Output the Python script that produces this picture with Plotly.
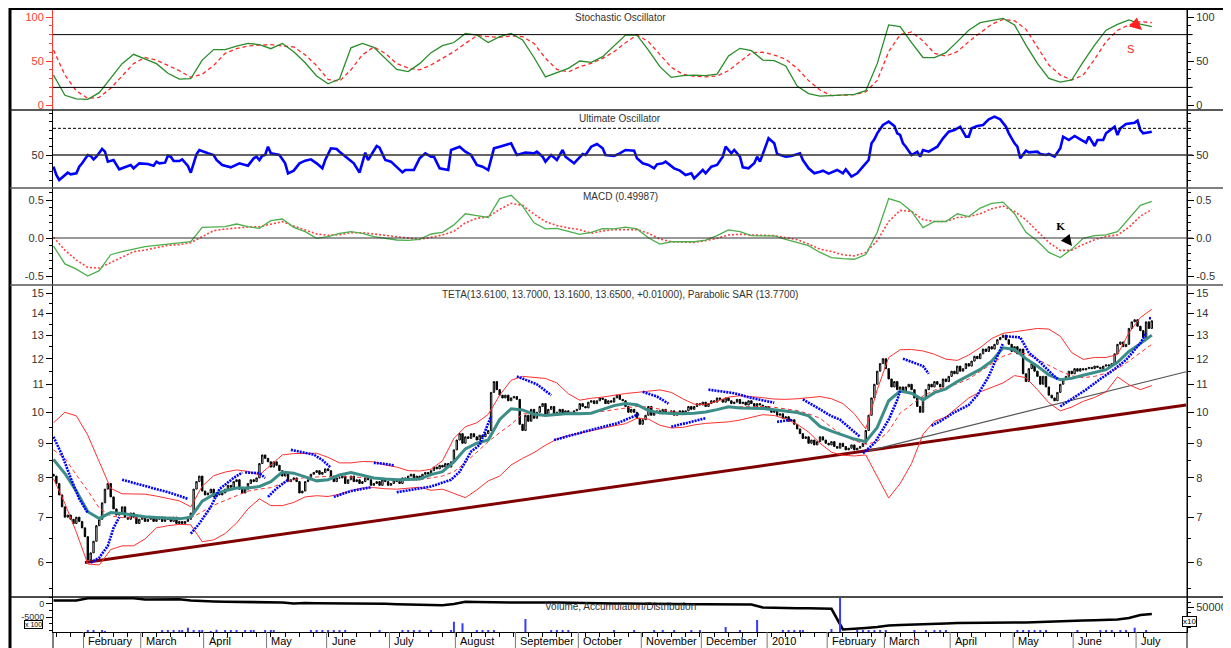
import numpy as np
import pandas as pd
import plotly.graph_objects as go

# ---------------- DATA ----------------
first_date = "2009-01-16"
first_open = 8.10
close = [
 8.05, 7.85, 7.55, 7.25, 7.0, 7.05, 6.95, 6.85, 7.0, 6.9,
 6.75, 6.55, 6.05, 6.2, 6.45, 6.8, 6.95, 7.35, 7.7, 7.85,
 7.5, 7.2, 7.05, 7.1, 7.25, 7.0, 6.95, 7.1, 7.0, 6.85,
 6.95, 7.0, 6.9, 6.95, 7.0, 6.9, 6.95, 7.0, 6.9, 6.95,
 6.95, 6.9, 7.0, 6.85, 6.9, 6.85, 6.9, 6.95, 7.1, 7.7,
 7.9, 8.05, 7.65, 7.55, 7.6, 7.7, 7.5, 7.6, 7.55, 7.6,
 7.7, 7.8, 7.75, 7.9, 7.95, 7.7, 7.6, 7.7, 7.85, 7.95,
 7.9, 8.0, 8.4, 8.65, 8.55, 8.45, 8.3, 8.45, 8.35, 8.2,
 8.05, 8.15, 7.9, 7.95, 8.0, 7.9, 7.6, 7.65, 7.9, 7.95,
 8.1, 8.15, 8.2, 8.1, 8.15, 8.25, 8.2, 8.05, 7.9, 8.0,
 8.0, 8.05, 7.85, 7.95, 8.05, 7.9, 7.95, 7.85, 7.9, 8.0,
 7.95, 7.8, 7.85, 7.9, 7.8, 7.95, 7.9, 7.8, 7.85, 7.95,
 7.9, 7.85, 8.0, 7.95, 8.05, 8.1, 7.95, 8.05, 8.0, 8.1,
 8.15, 8.1, 8.2, 8.3, 8.25, 8.35, 8.3, 8.4, 8.3, 8.45,
 8.8, 9.1, 9.3, 9.0, 9.2, 9.15, 9.3, 9.2, 9.1, 9.25,
 9.2, 9.3, 9.4, 10.7, 11.1, 10.8, 10.6, 10.5, 10.6, 10.4,
 10.5, 10.55, 10.45, 9.6, 9.4, 9.9, 9.7, 10.1, 9.8, 10.0,
 10.2, 10.3, 9.9, 10.1, 10.2, 9.9, 10.0, 10.1, 9.95, 10.05,
 10.0, 9.95, 10.05, 10.1, 10.3, 10.2, 10.15, 10.35, 10.4, 10.3,
 10.4, 10.5, 10.45, 10.3, 10.4, 10.35, 10.5, 10.6, 10.45, 10.4,
 10.2, 10.0, 10.1, 10.0, 9.8, 9.6, 9.75, 9.9, 10.2, 9.9,
 10.0, 10.05, 9.95, 10.1, 10.0, 9.95, 10.05, 9.9, 10.0, 10.05,
 9.95, 10.05, 10.2, 10.1, 10.2, 10.3, 10.25, 10.35, 10.2, 10.3,
 10.4, 10.35, 10.5, 10.45, 10.35, 10.5, 10.4, 10.3, 10.35, 10.45,
 10.3, 10.35, 10.25, 10.4, 10.3, 10.2, 10.3, 10.25, 10.15, 10.2,
 10.1, 10.0, 10.05, 9.9, 9.95, 9.8, 9.85, 9.7, 9.75, 9.6,
 9.45, 9.3, 9.15, 9.2, 9.0, 9.1, 8.95, 9.05, 9.2, 9.1,
 9.0, 8.95, 9.05, 8.9, 8.85, 9.0, 8.9, 8.8, 8.85, 8.95,
 8.8, 8.85, 8.9, 9.0, 9.4, 9.9, 10.5, 11.0, 11.5, 11.8,
 12.0, 11.6, 11.2, 10.9, 11.1, 10.8, 10.9, 10.7, 10.9, 11.0,
 10.8, 10.5, 10.2, 10.0, 10.5, 10.8, 11.0, 10.9, 11.1, 11.0,
 10.9, 11.2, 11.1, 11.3, 11.5, 11.4, 11.7, 11.5, 11.6, 11.8,
 11.7, 11.9, 12.1, 12.0, 12.2, 12.4, 12.3, 12.5, 12.4, 12.6,
 12.8, 12.9, 13.0, 12.8, 12.6, 12.3, 12.5, 12.2, 12.4, 11.4,
 11.1, 11.6, 11.8, 11.5, 11.3, 11.0, 11.3, 10.9, 10.6, 10.5,
 10.4, 10.7, 11.0, 11.2, 11.3, 11.5, 11.4, 11.6, 11.5, 11.6,
 11.55, 11.6, 11.65, 11.6, 11.7, 11.65, 11.6, 11.7, 11.75, 11.7,
 11.8, 12.2, 12.6, 12.7, 12.5, 12.6, 13.3, 13.6, 13.7, 13.4,
 13.2, 12.9, 13.6, 13.3, 13.65,
]

# indicator values read every 4th session
sample_step = 4
stoch_k = [34, 11, 7, 6.4, 14, 31, 47, 57.6, 52, 47,
           36, 29.5, 30, 51, 63, 63, 67, 70, 68.6, 64,
           70, 60.6, 48, 33, 24, 29.5, 65, 70, 65.5, 53,
           40.5, 38, 47, 59.5, 67.4, 71, 81.4, 79.5, 71, 77.7,
           81.4, 73.9, 54, 32, 36.7, 41.7, 50, 48.5, 55, 67,
           79.5, 79.5, 62.5, 43.6, 31.4, 33.3, 34, 33.3, 35, 55.7,
           64.4, 61.7, 51, 50.4, 44.3, 21.6, 12.9, 10.2, 10.6, 11.4,
           12, 16.3, 47, 91, 89, 70.8, 54, 53.8, 59.5, 72,
           85, 93.5, 96, 98.5, 91, 68, 47.3, 30.3, 26, 28.4,
           49, 68, 85, 91.7, 96.6, 92, 89]
stoch_d = [62.5, 34, 16, 7.6, 8.7, 19, 33, 47, 54, 51,
           45, 39, 31.4, 35, 45, 58.7, 64, 67, 68, 68.6,
           67, 66, 57, 44.7, 29, 27, 40, 57, 66, 58.7,
           47, 42, 40, 45.5, 53, 60.6, 70, 78.8, 77.7, 77,
           78.4, 77.7, 70, 53, 40.5, 37.5, 43.6, 47.3, 53, 60.6,
           70.8, 79.5, 72, 56.8, 42.8, 35, 32.6, 32, 33, 39,
           49, 59.5, 60, 56.8, 52, 41.7, 27.7, 17, 10.6, 11.4,
           11.7, 15, 28, 60.6, 80, 83, 73, 58.7, 55.7, 60.6,
           72, 82, 91.7, 97.3, 95.8, 86, 65.5, 45.5, 34, 28.4,
           34, 52, 72, 85, 91, 94.7, 93.6]
macd = [-0.105, -0.34, -0.41, -0.50, -0.43, -0.22, -0.18, -0.145, -0.114, -0.096,
        -0.079, -0.066, -0.048, 0.14, 0.149, 0.149, 0.184, 0.149, 0.127, 0.228,
        0.25, 0.14, 0.083, -0.004, 0.018, 0.061, 0.083, 0.061, 0.018, -0.009,
        -0.026, -0.03, -0.018, 0.053, 0.075, 0.173, 0.319, 0.296, 0.27, 0.518,
        0.562, 0.42, 0.2, 0.12, 0.128, 0.088, 0.049, 0.075, 0.124, 0.12,
        0.142, 0.12, 0.004, -0.08, -0.049, -0.049, -0.049, -0.027, 0.031, 0.106,
        0.084, 0.031, 0.031, 0.027, -0.018, -0.058, -0.10, -0.19, -0.257, -0.27,
        -0.279, -0.217, 0.075, 0.518, 0.473, 0.35, 0.137, 0.217, 0.217, 0.319,
        0.283, 0.394, 0.456, 0.473, 0.319, 0.075, -0.04, -0.19, -0.257, -0.146,
        -0.004, 0.031, 0.04, 0.084, 0.252, 0.429, 0.482]
macd_signal = [0.01, -0.16, -0.29, -0.386, -0.395, -0.32, -0.245, -0.18, -0.158, -0.127,
               -0.096, -0.088, -0.061, 0.018, 0.096, 0.118, 0.136, 0.145, 0.149, 0.18,
               0.215, 0.158, 0.105, 0.053, 0.035, 0.044, 0.07, 0.07, 0.053, 0.035,
               0.009, -0.004, -0.018, 0.009, 0.04, 0.088, 0.2, 0.26, 0.279, 0.376,
               0.456, 0.43, 0.314, 0.217, 0.164, 0.133, 0.111, 0.062, 0.093, 0.111,
               0.111, 0.111, 0.062, -0.013, -0.049, -0.053, -0.058, -0.035, -0.004, 0.04,
               0.049, 0.04, 0.04, 0.031, 0.004, -0.022, -0.08, -0.146, -0.177, -0.221,
               -0.235, -0.19, -0.035, 0.217, 0.363, 0.35, 0.243, 0.217, 0.217, 0.27,
               0.279, 0.319, 0.385, 0.42, 0.35, 0.239, 0.088, -0.058, -0.164, -0.159,
               -0.084, -0.022, 0.022, 0.04, 0.142, 0.288, 0.376]
band_upper = [9.65, 10.0, 9.88, 9.25, 8.45, 7.72, 7.58, 7.58, 7.57, 7.52,
              7.45, 7.4, 7.25, 7.78, 8.06, 8.16, 8.22, 8.18, 8.08, 8.35,
              8.65, 8.69, 8.7, 8.7, 8.58, 8.42, 8.42, 8.46, 8.45, 8.36,
              8.3, 8.2, 8.19, 8.24, 8.48, 9.15, 9.52, 9.65, 9.93, 10.6,
              11.15, 11.3, 11.26, 11.22, 11.05, 10.65, 10.42, 10.49, 10.53, 10.6,
              10.66, 10.7, 10.74, 10.79, 10.7, 10.47, 10.28, 10.27, 10.38, 10.53,
              10.58, 10.55, 10.51, 10.46, 10.45, 10.47, 10.52, 10.55, 10.47, 10.3,
              9.95, 9.45, 10.8, 12.05, 12.37, 12.38, 12.32, 12.18, 11.98, 11.93,
              12.15, 12.46, 12.85, 13.08, 13.15, 13.23, 13.3, 13.27, 12.95, 12.25,
              11.97, 12.05, 12.05, 12.17, 13.1, 13.8, 14.2]
band_lower = [7.98, 7.33, 6.65, 5.97, 5.95, 6.27, 6.35, 6.35, 6.5, 6.75,
              6.8, 6.83, 6.82, 6.44, 6.48, 6.62, 6.86, 7.2, 7.45, 7.28,
              7.28, 7.36, 7.5, 7.53, 7.51, 7.57, 7.66, 7.73, 7.74, 7.71,
              7.7, 7.72, 7.75, 7.67, 7.7, 7.59, 7.48, 7.68, 7.92, 8.05,
              8.36, 8.55, 8.72, 8.94, 9.13, 9.24, 9.31, 9.38, 9.47, 9.55,
              9.62, 9.8, 9.77, 9.57, 9.48, 9.5, 9.58, 9.63, 9.66, 9.68,
              9.74, 9.83, 9.92, 9.89, 9.78, 9.6, 9.35, 9.0, 8.73, 8.64,
              8.62, 8.65, 8.05, 7.47, 7.85, 8.4, 9.28, 9.7, 9.84, 10.15,
              10.5, 10.72, 10.87, 11.05, 11.33, 11.25, 10.8, 10.33, 10.05, 10.18,
              10.38, 10.52, 10.72, 11.28, 10.98, 10.8, 10.95]
ma_fast = [8.52, 8.12, 7.65, 7.13, 6.97, 7.11, 7.09, 7.05, 7.01, 6.99,
           6.98, 6.96, 7.0, 7.39, 7.56, 7.66, 7.73, 7.73, 7.77, 7.9,
           8.16, 8.13, 8.03, 7.92, 7.95, 8.08, 8.15, 8.07, 8.0, 7.97,
           7.95, 7.96, 7.97, 8.09, 8.17, 8.45, 8.83, 9.0, 9.1, 9.76,
           10.12, 10.08, 9.93, 9.89, 9.92, 9.96, 9.95, 9.97, 10.1, 10.23,
           10.3, 10.26, 10.06, 9.98, 9.96, 9.95, 9.97, 10.01, 10.09, 10.19,
           10.15, 10.14, 10.13, 10.09, 10.05, 9.99, 9.88, 9.53, 9.38, 9.25,
           9.13, 9.05, 9.5, 10.4, 10.75, 10.67, 10.43, 10.69, 10.83, 11.1,
           11.33, 11.57, 11.9, 12.45, 12.38, 12.0, 11.7, 11.35, 11.17, 11.23,
           11.34, 11.44, 11.56, 11.85, 12.3, 12.63, 13.0]
ma_slow = [8.8, 8.55, 8.08, 7.66, 7.22, 7.03, 6.99, 6.98, 6.99, 7.0,
           7.0, 6.99, 6.98, 7.13, 7.29, 7.41, 7.52, 7.65, 7.7, 7.74,
           7.85, 7.95, 8.01, 8.03, 8.04, 8.04, 8.02, 8.0, 7.98, 7.97,
           7.96, 7.95, 7.95, 8.0, 8.05, 8.17, 8.43, 8.73, 9.05, 9.33,
           9.6, 9.95, 9.95, 9.92, 9.95, 9.97, 9.97, 10.0, 10.03, 10.09,
           10.15, 10.2, 10.18, 10.1, 10.03, 9.97, 9.98, 10.02, 10.1, 10.16,
           10.19, 10.2, 10.2, 10.17, 10.12, 10.06, 9.95, 9.8, 9.5, 9.25,
           9.08, 8.97, 9.05, 9.38, 9.97, 10.26, 10.57, 10.78, 10.89, 11.02,
           11.2, 11.5, 11.81, 12.1, 12.26, 12.2, 11.97, 11.72, 11.5, 11.32,
           11.25, 11.3, 11.42, 11.6, 11.9, 12.25, 12.6]
acc_dist = [1350, 1350, 1350, 2190, 2190, 2190, 2115, 2190, 1730, 1730,
            2000, 1800, 1350, 1080, 960, 850, 770, 577, 577, 460,
            577, 190, 385, 270, 270, 190, 190, 190, 190, 77,
            -115, -190, -310, -385, -500, 0, 850, 770, 650, 460,
            577, 577, 460, 577, 577, 460, 385, 385, 270, 190,
            190, 190, 77, 0, 0, 0, -77, -115, -115, -190,
            -190, -190, -1350, -1540, -1540, -1650, -1650, -1730, -1850, -9810,
            -9620, -9230, -8850, -8270, -8080, -8000, -7880, -7690, -7500, -7310,
            -7230, -7120, -7120, -7040, -7120, -7120, -6920, -6730, -6650, -6540,
            -6350, -6270, -6150, -5960, -5380, -4230, -3850]

# Ultimate oscillator: session number / value
uo_session = [0, 1, 2, 3, 5, 6, 8, 9, 10, 12, 13, 14, 15, 17, 18, 19, 21, 23, 26, 27,
              28, 30, 33, 35, 36, 37, 39, 40, 41, 42, 44, 45, 47, 48, 50, 51, 54, 56, 57, 59,
              62, 64, 65, 68, 70, 71, 72, 73, 74, 75, 76, 79, 81, 82, 84, 86, 88, 90, 92, 94,
              95, 97, 99, 100, 102, 105, 107, 108, 109, 110, 112, 113, 114, 116, 118, 120, 122, 123, 125, 126,
              128, 130, 132, 133, 135, 138, 139, 142, 144, 146, 148, 150, 152, 154, 156, 160, 162, 165, 168, 169,
              171, 172, 174, 176, 178, 179, 182, 185, 186, 188, 190, 192, 193, 196, 198, 200, 203, 204, 206, 208,
              210, 211, 213, 214, 217, 219, 221, 223, 224, 227, 228, 230, 232, 234, 235, 237, 238, 240, 241, 243,
              245, 246, 247, 249, 250, 252, 253, 256, 258, 261, 262, 264, 266, 268, 269, 271, 274, 276, 277, 279,
              281, 283, 285, 286, 287, 288, 290, 292, 294, 295, 296, 297, 298, 300, 302, 303, 304, 306, 309, 311,
              313, 315, 317, 319, 320, 321, 323, 325, 327, 329, 331, 333, 334, 336, 337, 338, 340, 341, 344, 345,
              347, 348, 350, 352, 353, 355, 357, 359, 361, 362, 364, 365, 367, 368, 371, 372, 373, 375, 378, 379,
              380, 381, 383, 384]
uo_value = [41.25, 35, 31.25, 33.25, 36.75, 35.5, 36.25, 41.25, 43.75, 50, 49.25, 46.75, 48.75, 54.5, 52.5, 45, 46.25, 39.25, 41.25, 42.5,
            40, 43.75, 43.25, 42, 45, 43.75, 44.25, 49.5, 48.75, 45.5, 45.5, 46.75, 41.75, 36.75, 50.5, 53.75, 51.25, 50, 46.25, 42.5,
            40.75, 42.5, 43.75, 42, 47.5, 48.75, 46.25, 49.5, 50, 56.25, 51.25, 50, 43.75, 36.25, 38.25, 43.75, 45.75, 46.75, 43.75, 40,
            46.25, 55, 54.5, 52.5, 48.75, 43.75, 36.75, 43.75, 51.75, 46.25, 53.75, 56.75, 55.5, 46.25, 45, 41.25, 37, 38.75, 38.75, 38.75,
            47.5, 51.25, 48.75, 48.75, 40, 38.75, 53.75, 56.25, 52.5, 50, 42.5, 41.25, 38.75, 55, 56.25, 58.75, 50, 51.75, 51.25, 52.5,
            48.75, 45, 50, 46.25, 53.75, 48.75, 43.75, 50.75, 50, 56.25, 58.25, 55, 50, 49.25, 51.25, 53.75, 53.25, 47.5, 43.75, 42.5,
            40, 43, 43.75, 45, 40, 38.25, 35, 36.25, 32.5, 38.75, 36.25, 41.25, 42.5, 48.75, 56.25, 51.25, 53.75, 48.75, 40.75, 40,
            43.75, 48.75, 45, 56.25, 62.5, 58.75, 50.75, 48.75, 49.25, 51.25, 46.25, 40, 36.25, 37.5, 38.25, 36, 38.75, 36.25, 39.25, 33.75,
            36.25, 41.25, 46.25, 58.75, 61.75, 66.25, 72.5, 75, 71.75, 66.25, 65, 58.75, 56.25, 50, 52.5, 48.75, 53.75, 52.5, 56.25, 62.5,
            67.5, 68.75, 71.25, 63.75, 63.75, 70, 71.75, 72.5, 76.75, 78.75, 76.75, 71.25, 66.25, 58.75, 56.25, 47.5, 53.25, 52, 52.5, 50.75,
            50, 50.75, 48.75, 55, 63.75, 61.25, 64.25, 61.75, 59.25, 63.75, 56.75, 61.25, 61.25, 66.25, 71.25, 65, 70, 73.25, 74.25, 75.75,
            68.75, 66.25, 66.75, 67.5]

# Parabolic SAR: session number / value, None separates the segments
sar_session = [0, 3, 6, 9, 12, None, 13, 16, 19, 21, 23, None, 24, 34, 41, 47, None,
               48, 51, 55, 58, 63, 66, None, 67, 72, 74, None, 75, 78, 82, None,
               83, 91, 94, 97, None, 98, 104, 111, None, 112, 115, 119, None,
               120, 128, 132, 139, 142, 146, 149, 153, None, 162, 169, 174, None,
               175, 183, 190, 197, 205, None, 206, 211, 215, None, 216, 221, 228, None,
               229, 238, 244, 252, None, 253, 258, None, 262, 268, 272, 275, 282, None,
               283, 287, 292, 295, 296, None, 297, 304, 306, None,
               307, 310, 315, 320, 323, 327, 330, 332, None,
               333, 338, 341, 345, 349, 351, None,
               352, 356, 361, 366, 370, 375, 380, 382, None, 383, 384]
sar_value = [9.2, 8.65, 8.0, 7.45, 7.1, None, 6.0, 6.1, 6.35, 6.75, 7.0, None, 7.95, 7.75, 7.6, 7.45, None,
             6.62, 6.85, 7.25, 7.7, 8.0, 8.15, None, 8.15, 8.13, 8.0, None, 7.5, 7.72, 7.95, None,
             8.8, 8.66, 8.5, 8.28, None, 7.5, 7.65, 7.75, None, 8.42, 8.4, 8.35, None,
             7.62, 7.72, 7.77, 7.95, 8.17, 8.75, 8.95, 9.87, None, 11.3, 11.0, 10.6, None,
             9.1, 9.3, 9.47, 9.63, 9.95, None, 10.72, 10.55, 10.3, None, 9.52, 9.63, 9.8, None,
             10.8, 10.67, 10.5, 10.33, None, 9.68, 9.75, None, 10.45, 10.1, 9.87, 9.75, 9.2, None,
             8.7, 9.0, 9.75, 10.43, 10.75, None, 12.0, 11.7, 11.4, None,
             9.55, 9.7, 10.0, 10.25, 10.6, 11.3, 12.1, 12.65, None,
             12.95, 12.9, 12.25, 11.85, 11.4, 11.2, None,
             10.2, 10.45, 10.8, 11.2, 11.5, 11.95, 12.65, 13.1, None, 13.77, 13.77]

# trend lines (session, price)
trend_main_session = [11, 396]
trend_main_price = [6.0, 10.25]
trend_thin_session = [285, 396]
trend_thin_price = [8.77, 11.48]

# volume (sessions with a visible bar)
vol_session = [12, 14, 17, 18, 38, 40, 42, 44, 45, 47, 49, 51, 52, 55, 57, 60, 62, 64, 67, 69,
               70, 74, 76, 77, 90, 92, 94, 96, 98, 100, 102, 114, 122, 124, 126, 128, 132, 139,
               140, 143, 148, 150, 152, 154, 165, 174, 176, 178, 180, 196, 203, 210, 213, 217,
               223, 226, 235, 240, 246, 255, 257, 259, 261, 262, 272, 275, 281, 283, 285, 287,
               289, 291, 301, 305, 308, 310, 312, 337, 339, 341, 343, 345, 347, 358, 366, 368,
               370, 373, 375, 378, 382]
vol_value = [3000, 2500, 3000, 2000, 2500, 3500, 3000, 4000, 3000, 8600, 3500, 2500, 3000, 2000,
             4500, 3000, 3500, 2500, 3000, 2500, 3000, 4000, 3000, 2500, 2500, 3000, 2500, 3000,
             2500, 3000, 2500, 2500, 3000, 3500, 3000, 2500, 3000, 4000, 20600, 17400, 3000, 3500,
             3000, 2500, 26000, 3000, 3500, 3000, 2500, 2500, 3000, 2500, 3000, 2500, 3000, 2500,
             10000, 3000, 24000, 3000, 3500, 3000, 2500, 3000, 6000, 68000, 3000, 3500, 3000,
             4000, 3000, 2500, 3000, 2500, 3000, 3500, 3000, 3500, 3000, 2500, 3000, 3500, 3000,
             3000, 3000, 3500, 3000, 4000, 3500, 8600, 3000]

month_names = {1: "2010", 2: "February", 3: "March", 4: "April", 5: "May", 6: "June",
               7: "July", 8: "August", 9: "September", 10: "October", 11: "November",
               12: "December"}

# ---------------- LAYOUT GEOMETRY (page pixels) ----------------
PAGE_W, PAGE_H = 1231, 648
OFF = 8                      # default body margin of the html page
L, R, T, B = 53, 1187, 9, 632
SEP = [110, 188, 285, 597]
FONT = "Liberation Sans, Arial, sans-serif"


def fx(px):
    return (px - L) / (R - L)


def fy(py):
    return (B - py) / (B - T)


n = len(close)
dates = pd.bdate_range(first_date, periods=n)
sess = np.arange(n)
opens = [first_open] + close[:-1]
highs = [max(o, c) for o, c in zip(opens, close)]
lows = [min(o, c) for o, c in zip(opens, close)]
s_x = sess[::sample_step][:len(stoch_k)]

x_range = [-0.17, 396.3]

fig = go.Figure()

# stochastic
fig.add_trace(go.Scatter(x=s_x, y=stoch_d, yaxis="y", mode="lines",
                         line=dict(color="#ff2a2a", width=1.3, dash="4px,3px")))
fig.add_trace(go.Scatter(x=s_x, y=stoch_k, yaxis="y", mode="lines",
                         line=dict(color="#2a8c2a", width=1.3)))
# ultimate
fig.add_trace(go.Scatter(x=uo_session, y=uo_value, yaxis="y2", mode="lines",
                         line=dict(color="#0000ff", width=2.6)))
# macd
fig.add_trace(go.Scatter(x=s_x, y=macd_signal, yaxis="y3", mode="lines",
                         line=dict(color="#ff4040", width=1.6, dash="2px,2px")))
fig.add_trace(go.Scatter(x=s_x, y=macd, yaxis="y3", mode="lines",
                         line=dict(color="#4caf4c", width=1.3)))
# price panel
fig.add_trace(go.Scatter(x=trend_main_session, y=trend_main_price, yaxis="y4", mode="lines",
                         line=dict(color="#800000", width=3)))
fig.add_trace(go.Scatter(x=trend_thin_session, y=trend_thin_price, yaxis="y4", mode="lines",
                         line=dict(color="#555555", width=1.2)))
fig.add_trace(go.Scatter(x=s_x, y=band_upper, yaxis="y4", mode="lines",
                         line=dict(color="#ff3030", width=1)))
fig.add_trace(go.Scatter(x=s_x, y=band_lower, yaxis="y4", mode="lines",
                         line=dict(color="#ff3030", width=1)))
fig.add_trace(go.Scatter(x=s_x, y=ma_slow, yaxis="y4", mode="lines",
                         line=dict(color="#ff3030", width=1, dash="4px,3px")))
fig.add_trace(go.Candlestick(x=sess, open=opens, high=highs, low=lows, close=close,
                             yaxis="y4", whiskerwidth=0,
                             increasing=dict(line=dict(color="black", width=1), fillcolor="white"),
                             decreasing=dict(line=dict(color="black", width=1), fillcolor="black")))
fig.add_trace(go.Scatter(x=s_x, y=ma_fast, yaxis="y4", mode="lines",
                         line=dict(color="#3b8d88", width=3)))
fig.add_trace(go.Scatter(x=sar_session, y=sar_value, yaxis="y4", mode="lines", connectgaps=False,
                         line=dict(color="#0000ff", width=2.6, dash="2px,1px")))
# volume / AD
fig.add_trace(go.Bar(x=vol_session, y=vol_value, yaxis="y10", width=0.7,
                     marker=dict(color="#3a3aff", line=dict(width=0))))
fig.add_trace(go.Scatter(x=s_x, y=acc_dist, yaxis="y5", mode="lines",
                         line=dict(color="black", width=2.6)))
# anchors for right-hand axes
for ax, v in [("y6", 50), ("y7", 50), ("y8", 0), ("y9", 10), ("y10", 0)]:
    fig.add_trace(go.Scatter(x=[0], y=[v], yaxis=ax, mode="markers",
                             marker=dict(opacity=0), hoverinfo="skip"))

tickfont = dict(family=FONT, size=11, color="#333333")
base = dict(showline=True, linecolor="black", linewidth=1, ticks="outside", ticklen=6,
            tickwidth=1, tickcolor="black", showgrid=False, zeroline=False,
            tickfont=tickfont, anchor="x", fixedrange=True)

dom_st = [fy(SEP[0]), fy(T)]
dom_uo = [fy(SEP[1]), fy(SEP[0])]
dom_md = [fy(SEP[2]), fy(SEP[1])]
dom_pr = [fy(SEP[3]), fy(SEP[2])]
dom_vo = [0, fy(SEP[3])]

rng_st = [-5.68, 109.1]
rng_uo = [25.25, 83.75]
rng_md = [-0.618, 0.658]
rng_pr = [0.7272, 1.188]
rng_ad = [-10770, 2690]
rng_vo = [0, 70000]

price_ticks = [6, 7, 8, 9, 10, 11, 12, 13, 14, 15]
price_minor = [5.5, 6.5, 7.5, 8.5, 9.5, 10.5, 11.5, 12.5, 13.5, 14.5]


def yax(domain, rng, tv, tt, side="left", overlay=None, minor=None, typ="linear", **kw):
    d = dict(base)
    d.update(domain=domain, range=rng, tickmode="array", tickvals=tv, ticktext=tt,
             side=side, type=typ)
    if overlay:
        d["overlaying"] = overlay
    if minor is not None:
        d["minor"] = dict(tickmode="array", tickvals=minor, ticks="outside", ticklen=3,
                          tickcolor=kw.get("tickcolor", "black"))
    d.update(kw)
    return d


st_minor = [10, 20, 30, 40, 60, 70, 80, 90]
uo_minor = [50 + 6.25 * k for k in range(-4, 6) if k != 0]
md_minor = [-0.4, -0.3, -0.2, -0.1, 0.1, 0.2, 0.3, 0.4, 0.6]
ad_minor = [-10000, -7500, -2500, 2500]
vo_minor = [10000, 20000, 30000, 40000, 60000]

red = "#ff3b30"
layout = dict(
    width=PAGE_W - OFF, height=PAGE_H - OFF, autosize=False,
    margin=dict(l=L - OFF, r=PAGE_W - R, t=T - OFF, b=PAGE_H - B, pad=0),
    paper_bgcolor="white", plot_bgcolor="white", showlegend=False,
    font=dict(family=FONT, size=11, color="#333"),
    xaxis=dict(domain=[0, 1], range=x_range, anchor="y5", showline=True, linecolor="black",
               linewidth=1, showgrid=False, zeroline=False, ticks="outside", ticklen=4,
               tickcolor="black", tickmode="array",
               tickvals=[i for i, d in enumerate(dates) if d.weekday() == 0],
               showticklabels=False, rangeslider=dict(visible=False), fixedrange=True),
    yaxis=yax(dom_st, rng_st, [0, 50, 100], ["0", "50", "100"], minor=st_minor,
              linecolor=red, tickcolor=red, tickfont=dict(family=FONT, size=11, color=red)),
    yaxis6=yax(dom_st, rng_st, [0, 50, 100], ["0", "50", "100"], side="right", overlay="y",
               minor=st_minor),
    yaxis2=yax(dom_uo, rng_uo, [50], ["50"], minor=uo_minor),
    yaxis7=yax(dom_uo, rng_uo, [50], ["50"], side="right", overlay="y2", minor=uo_minor),
    yaxis3=yax(dom_md, rng_md, [-0.5, 0, 0.5], ["-0.5", "0.0", "0.5"], minor=md_minor),
    yaxis8=yax(dom_md, rng_md, [-0.5, 0, 0.5], ["-0.5", "0.0", "0.5"], side="right",
               overlay="y3", minor=md_minor),
    yaxis4=yax(dom_pr, rng_pr, price_ticks, [str(v) for v in price_ticks], typ="log",
               minor=price_minor),
    yaxis9=yax(dom_pr, rng_pr, price_ticks, [str(v) for v in price_ticks], typ="log",
               side="right", overlay="y4", minor=price_minor),
    yaxis5=yax(dom_vo, rng_ad, [0, -5000], ["0", "-5000"], minor=ad_minor,
               tickfont=dict(family=FONT, size=9, color="#333")),
    yaxis10=yax(dom_vo, rng_vo, [50000], ["50000"], side="right", overlay="y5",
                minor=vo_minor),
)
fig.update_layout(**layout)

shapes = []
# outer frame
shapes.append(dict(type="line", xref="paper", yref="paper", x0=fx(10), x1=fx(1228),
                   y0=fy(8.5), y1=fy(8.5), line=dict(color="black", width=3)))
shapes.append(dict(type="line", xref="paper", yref="paper", x0=fx(10), x1=fx(10),
                   y0=fy(8), y1=fy(648), line=dict(color="black", width=3)))
shapes.append(dict(type="line", xref="paper", yref="paper", x0=fx(1228), x1=fx(1228),
                   y0=fy(8), y1=fy(648), line=dict(color="black", width=2)))
shapes.append(dict(type="line", xref="paper", yref="paper", x0=fx(R), x1=fx(R),
                   y0=fy(T), y1=fy(648), line=dict(color="black", width=1)))
shapes.append(dict(type="line", xref="paper", yref="paper", x0=fx(L), x1=fx(L),
                   y0=fy(B), y1=fy(648), line=dict(color="black", width=1)))
# panel separators
for py, col in zip(SEP, ["#222", "#555", "#555", "#111"]):
    shapes.append(dict(type="line", xref="paper", yref="paper", x0=fx(10), x1=fx(1228),
                       y0=fy(py), y1=fy(py), line=dict(color=col, width=1.5)))
# reference levels
for lvl in (20, 80):
    shapes.append(dict(type="line", xref="paper", yref="y", x0=0, x1=1.005, y0=lvl, y1=lvl,
                       line=dict(color="black", width=1)))
shapes.append(dict(type="line", xref="paper", yref="y2", x0=0, x1=1.005, y0=50, y1=50,
                   line=dict(color="#333", width=1.5)))
shapes.append(dict(type="line", xref="paper", yref="y2", x0=0, x1=1.005, y0=70, y1=70,
                   line=dict(color="black", width=1, dash="3px,2px")))
shapes.append(dict(type="line", xref="paper", yref="y3", x0=0, x1=1.005, y0=0, y1=0,
                   line=dict(color="#333", width=1.2)))
# month separators in the label row
month_starts = [i for i in range(1, n) if dates[i].month != dates[i - 1].month]
for i in month_starts:
    shapes.append(dict(type="line", xref="x", yref="paper", x0=i - 0.5, x1=i - 0.5,
                       y0=fy(B), y1=fy(648), line=dict(color="#777", width=1)))
fig.update_layout(shapes=shapes)

ann = []
for i in month_starts:
    ann.append(dict(x=i + 0.5, y=fy(641), xref="x", yref="paper", text=month_names[dates[i].month],
                    showarrow=False, xanchor="left", yanchor="middle",
                    font=dict(family=FONT, size=11, color="black")))
titles = [("Stochastic Oscillator", 17), ("Ultimate Oscillator", 118.5), ("MACD (0.49987)", 196),
          ("TETA(13.6100, 13.7000, 13.1600, 13.6500, +0.01000), Parabolic SAR (13.7700)", 294),
          ("Volume, Accumulation/Distribution", 606)]
for txt, py in titles:
    ann.append(dict(x=fx(620), y=fy(py), xref="paper", yref="paper", text=txt, showarrow=False,
                    xanchor="center", yanchor="middle",
                    font=dict(family=FONT, size=10, color="#333")))
ann.append(dict(x=fx(24), y=fy(629), xref="paper", yref="paper", text="x 100", showarrow=False,
                font=dict(family=FONT, size=7, color="black"), bordercolor="black", borderwidth=1,
                borderpad=0, bgcolor="white"))
ann.append(dict(x=fx(1197), y=fy(627), xref="paper", yref="paper", text="x10", showarrow=False,
                font=dict(family=FONT, size=8, color="black"), bordercolor="black", borderwidth=1,
                borderpad=0, bgcolor="white"))
ann.append(dict(x=fx(1136), y=fy(41), xref="paper", yref="paper", text="S", showarrow=False,
                font=dict(family=FONT, size=11, color="#ff2020")))
ann.append(dict(x=fx(1142), y=fy(30), xref="paper", yref="paper", text="", showarrow=True,
                ax=-9, ay=-8, arrowhead=2, arrowsize=1.1, arrowwidth=2.2, arrowcolor="#ff2020"))
ann.append(dict(x=fx(1067), y=fy(227), xref="paper", yref="paper", text="<b>K</b>",
                showarrow=False, font=dict(family="DejaVu Serif", size=10, color="black")))
ann.append(dict(x=fx(1072), y=fy(246), xref="paper", yref="paper", text="", showarrow=True,
                ax=-7, ay=-9, arrowhead=2, arrowsize=1.1, arrowwidth=2, arrowcolor="black"))
fig.update_layout(annotations=ann)

fig.write_html("out.html")
